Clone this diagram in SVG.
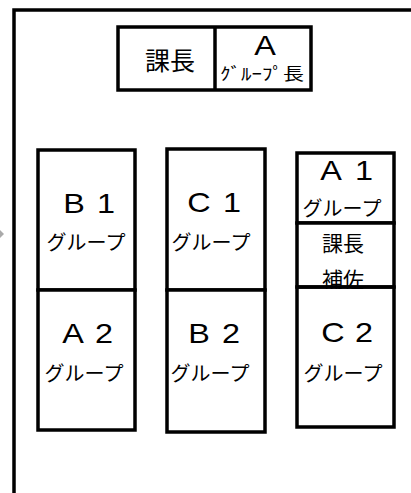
<svg xmlns="http://www.w3.org/2000/svg" width="411" height="493" viewBox="0 0 411 493">
<style>
.box{fill:#fff;stroke:#000;stroke-width:3.5}
.ln{fill:none;stroke:#000;stroke-width:3.5}
.t{font-family:"Noto Sans CJK JP","Noto Sans",sans-serif;fill:#000;text-anchor:middle}
.big{font-family:"Liberation Sans",Arial,sans-serif;font-size:27px;fill:#000;text-anchor:middle}
.grp{font-size:20px}
</style>
<rect x="0" y="0" width="411" height="493" fill="#fff"/>
<polygon points="0,230 4,234 0,238" fill="#aaa"/>
<path class="ln" d="M14 493 V10 H411"/>
<g id="top">
  <rect class="box" x="118" y="27" width="193" height="63" stroke-width="4"/>
  <line class="ln" x1="215" y1="27" x2="215" y2="90" stroke-width="4"/>
  <text class="t" x="170" y="70" font-size="25">課長</text>
  <text class="big" x="265" y="55" font-size="26" transform="matrix(1.2 0 0 1 -53 0)">A</text>
  <text class="t" x="262" y="80" font-size="17" textLength="84" lengthAdjust="spacingAndGlyphs">ｸﾞﾙｰﾌﾟ長</text>
</g>
<g id="B1">
  <rect class="box" x="38" y="150" width="97" height="140"/>
  <text class="big" x="76.67 103.33" y="213" transform="matrix(1.2 0 0 1 -18 0)">B1</text>
  <text class="t grp" x="86" y="250">グループ</text>
</g>
<g id="A2">
  <rect class="box" x="38" y="290" width="97" height="140"/>
  <text class="big" x="75.58 101.42" y="343" transform="matrix(1.2 0 0 1 -17.7 0)">A2</text>
  <text class="t grp" x="84" y="381">グループ</text>
</g>
<g id="C1">
  <rect class="box" x="167" y="149" width="98" height="141"/>
  <text class="big" x="201.75 229.25" y="212" transform="matrix(1.2 0 0 1 -43.1 0)">C1</text>
  <text class="t grp" x="211" y="250">グループ</text>
</g>
<g id="B2">
  <rect class="box" x="167" y="290" width="98" height="142"/>
  <text class="big" x="201.67 228.33" y="343" transform="matrix(1.2 0 0 1 -43 0)">B2</text>
  <text class="t grp" x="210" y="381">グループ</text>
</g>
<g id="A1">
  <rect class="box" x="297" y="153" width="97" height="70"/>
  <text class="big" x="333.75 361.25" y="180" transform="matrix(1.2 0 0 1 -69.5 0)">A1</text>
  <text class="t grp" x="342" y="216">グループ</text>
</g>
<g id="kachouhosa">
  <rect class="box" x="297" y="223" width="97" height="64"/>
  <text class="t" x="343" y="251" font-size="21">課長</text>
  <text class="t" x="343" y="287" font-size="21">補佐</text>
</g>
<g id="C2">
  <rect x="297" y="289" width="97" height="138" fill="#fff"/>
  <path class="ln" d="M297 287 H394 V427 H297 Z"/>
  <text class="big" x="335.58 361.42" y="342" transform="matrix(1.2 0 0 1 -69.7 0)">C2</text>
  <text class="t grp" x="343" y="381">グループ</text>
</g>
<g id="connectors"></g>
</svg>
